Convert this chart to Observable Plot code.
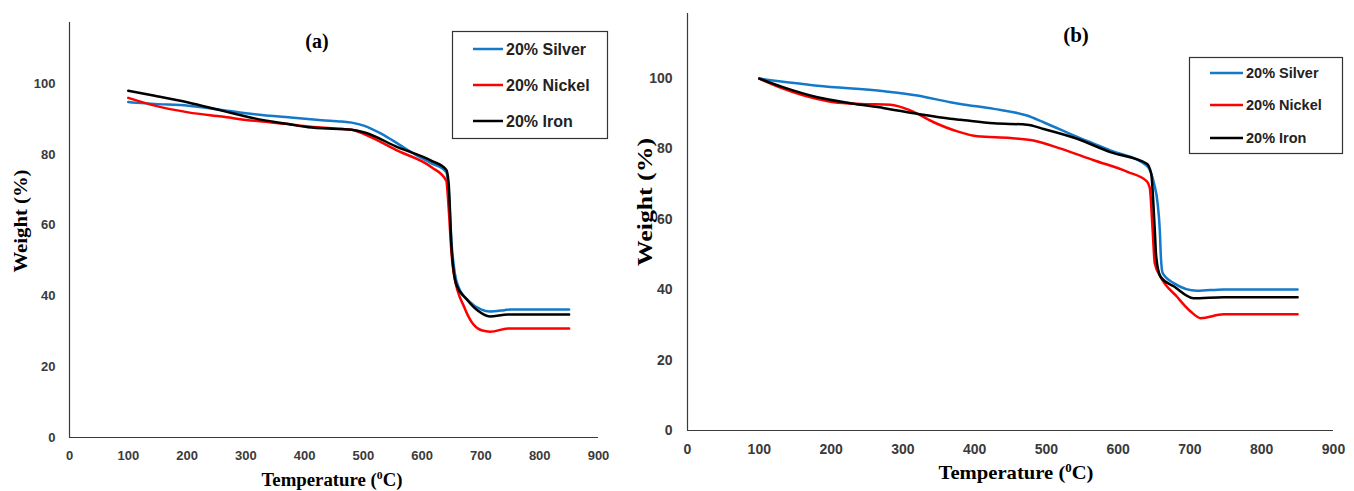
<!DOCTYPE html>
<html><head><meta charset="utf-8">
<script src="https://cdn.jsdelivr.net/npm/d3@7"></script>
<script src="https://cdn.jsdelivr.net/npm/@observablehq/plot@0.6"></script>
<style>
body{margin:0;background:#fff;}
#wrap{position:relative;width:1354px;height:491px;overflow:hidden;background:#fff;}
.panel{position:absolute;top:0;}
#overlay{position:absolute;left:0;top:0;pointer-events:none;}
</style></head><body>
<div id="wrap"><div class="panel" id="pa" style="left:0px"></div><div class="panel" id="pb" style="left:620px"></div><svg id="overlay" width="1354" height="491"></svg></div>
<script>
const seriesNames = ["20% Silver", "20% Nickel", "20% Iron"];
const seriesColors = ["#1479c9", "#ff0000", "#000000"];
const xTicks = [0, 100, 200, 300, 400, 500, 600, 700, 800, 900];
const yTicks = [0, 20, 40, 60, 80, 100];
const panelTitles = ["(a)", "(b)"];
const xTitle = "Temperature (";
const yTitle = "Weight (%)";

// Panel (a)
const aSilverT = [100,145,202,259,315,372,429,463,480,502,531,559,587,616,641,645,650,656,662,680,700,715,740,750,850];
const aSilverW = [94.8,94.3,93.8,92.6,91.4,90.5,89.7,89.3,89.0,88.1,85.8,83.0,80.1,77.5,75.0,70,55,46,42.5,38.5,36.2,35.6,36.0,36.2,36.2];
const aNickelT = [100,145,202,259,315,372,406,463,480,502,559,616,641,645,650,654,672,687,701,716,746,850];
const aNickelW = [96.0,93.8,91.9,90.7,89.5,88.6,87.9,87.2,87.0,85.7,81.0,76.4,72.6,65,52,46.1,36.7,32.0,30.3,29.9,30.8,30.8];
const aIronT = [100,145,202,259,315,372,406,463,480,502,559,616,641,645,650,658,676,695,715,746,850];
const aIronW = [98.0,96.6,94.7,92.4,90.2,88.6,87.7,87.2,87.0,86.2,82.0,78.2,75.7,72,53.6,43.3,39.0,35.8,34.2,34.8,34.8];

// Panel (b)
const bSilverT = [100,181,274,320,366,380,427,473,496,543,589,640,650,655,658,659.5,662,678,710,747,850];
const bSilverW = [100,98.0,96.4,95.2,93.3,92.8,91.4,89.5,87.6,83.4,79.6,75.2,70.2,64.5,56.9,49.4,44.7,41.8,39.7,40.1,40.1];
const bNickelT = [100,134,181,204,241,283,311,343,376,404,450,482,520,566,613,640,644,648,651,659,682,701,715,747,850];
const bNickelW = [100,97.1,94.2,93.3,92.8,92.6,90.9,87.6,85.0,83.6,83.1,82.4,80.1,76.8,73.5,70.8,69.0,57,47.5,43.7,38,33.8,31.9,33.0,33.0];
const bIronT = [100,134,181,227,274,320,366,380,427,473,496,543,589,640,646,651,653,659,678,705,747,850];
const bIronW = [100,97.5,94.7,93.0,91.6,90.0,88.6,88.3,87.3,86.9,85.7,82.9,79.1,75.8,73.0,57.0,49.4,43.7,40.9,37.6,37.9,37.9];

function table(pairs) {
  const rows = [];
  pairs.forEach(([T, W], i) => T.forEach((t, j) => rows.push({T: t, W: W[j], s: seriesNames[i]})));
  return rows;
}
const dataA = table([[aSilverT, aSilverW], [aNickelT, aNickelW], [aIronT, aIronW]]);
const dataB = table([[bSilverT, bSilverW], [bNickelT, bNickelW], [bIronT, bIronW]]);

const sansFont = "'Liberation Sans', Arial, sans-serif";
const serifFont = "'Liberation Serif', 'Times New Roman', serif";

function panel(o) {
  const ax = {tickSize: 0, label: null, fontSize: o.fs, fontWeight: "bold", fill: "#3a3a3a"};
  return Plot.plot({
    width: o.width, height: 491,
    marginTop: o.mt, marginBottom: o.mb, marginLeft: o.ml, marginRight: o.mr,
    x: {domain: [0, 900], label: null},
    y: {domain: [0, o.ymax], label: null},
    color: {domain: seriesNames, range: seriesColors},
    style: {fontFamily: sansFont, fontSize: o.fs + "px", fontWeight: "bold", color: "#3a3a3a", background: "transparent"},
    marks: [
      Plot.axisX({...ax, ticks: xTicks, tickPadding: o.xpad}),
      Plot.axisY({...ax, ticks: yTicks, tickPadding: o.ypad}),
      Plot.ruleX([0], {stroke: "#3a3a3a", strokeWidth: 1.2}),
      Plot.ruleY([0], {stroke: "#3a3a3a", strokeWidth: 1.2}),
      Plot.line(o.data, {x: "T", y: "W", z: "s", stroke: "s", strokeWidth: 2.5, curve: "monotone-x"})
    ]
  });
}

document.getElementById("pa").append(panel({data: dataA, width: 620, mt: 22, mb: 54, ml: 69, mr: 22, ymax: 117.3, fs: 13, xpad: 13, ypad: 14}));
document.getElementById("pb").append(panel({data: dataB, width: 734, mt: 13, mb: 61, ml: 67, mr: 21, ymax: 118.5, fs: 14, xpad: 14, ypad: 15}));

const ov = d3.select("#overlay");
// panel titles
ov.append("text").attr("x", 317).attr("y", 48).attr("text-anchor", "middle")
  .attr("font-family", serifFont).attr("font-weight", "bold").attr("font-size", 20).text(panelTitles[0]);
ov.append("text").attr("x", 1076).attr("y", 42).attr("text-anchor", "middle")
  .attr("font-family", serifFont).attr("font-weight", "bold").attr("font-size", 21).text(panelTitles[1]);

// x titles
function xTitleAt(cx, base, fs, len) {
  const t = ov.append("text").attr("x", cx - len / 2).attr("y", base)
    .attr("font-family", serifFont).attr("font-weight", "bold").attr("font-size", fs)
    .attr("textLength", len).attr("lengthAdjust", "spacingAndGlyphs");
  t.append("tspan").text(xTitle);
  t.append("tspan").attr("dy", -fs * 0.38).attr("font-size", fs * 0.62).text("0");
  t.append("tspan").attr("dy", fs * 0.38).text("C)");
}
xTitleAt(332, 486, 18, 141);
xTitleAt(1016, 479, 19, 155);

// y titles
function yTitleAt(cx, cy, fs, len) {
  ov.append("text").attr("transform", `translate(${cx},${cy}) rotate(-90)`)
    .attr("text-anchor", "middle").attr("dominant-baseline", "central")
    .attr("font-family", serifFont).attr("font-weight", "bold").attr("font-size", fs)
    .attr("textLength", len).attr("lengthAdjust", "spacingAndGlyphs").text(yTitle);
}
yTitleAt(21, 221, 18, 103);
yTitleAt(645, 202, 20, 128);

// legends
function legend(o) {
  ov.append("rect").attr("x", o.x).attr("y", o.y).attr("width", o.w).attr("height", o.h)
    .attr("fill", "white").attr("stroke", "#333").attr("stroke-width", 1.2);
  seriesNames.forEach((name, i) => {
    const y = o.rows[i];
    ov.append("line").attr("x1", o.lx1).attr("x2", o.lx2).attr("y1", y).attr("y2", y)
      .attr("stroke", seriesColors[i]).attr("stroke-width", 2.5);
    ov.append("text").attr("x", o.tx).attr("y", y).attr("dy", "0.35em")
      .attr("font-family", sansFont).attr("font-weight", "bold").attr("font-size", o.fs)
      .attr("fill", "#222").text(name);
  });
}
legend({x: 452.5, y: 31.5, w: 155, h: 107, lx1: 473, lx2: 503, tx: 506, fs: 16, rows: [49, 85, 121]});
legend({x: 1189.5, y: 57.5, w: 153, h: 96, lx1: 1210, lx2: 1243, tx: 1246, fs: 14.5, rows: [73, 105, 138]});
</script>
</body></html>
